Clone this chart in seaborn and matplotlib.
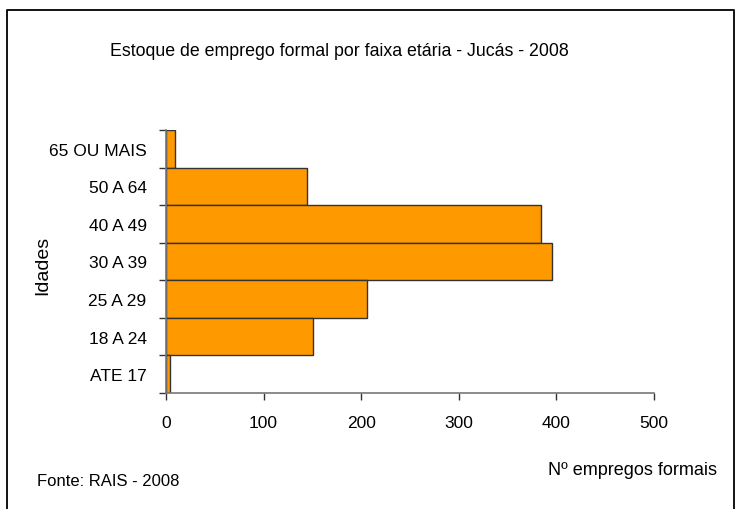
import numpy as np
import pandas as pd
import matplotlib
matplotlib.use("Agg")
import matplotlib.pyplot as plt
import seaborn as sns
from matplotlib.lines import Line2D

# data, top bar first
faixas = ["65 OU MAIS", "50 A 64", "40 A 49", "30 A 39", "25 A 29", "18 A 24", "ATE 17"]
empregos = [9, 144, 384, 396, 206, 151, 4]
x_ticks = [0, 100, 200, 300, 400, 500]

df = pd.DataFrame({"faixa": faixas, "empregos": empregos})

sns.set_style("white")
plt.rcParams["font.family"] = ["Liberation Sans", "DejaVu Sans"]
plt.rcParams["text.color"] = "black"
plt.rcParams["xtick.color"] = "black"
plt.rcParams["ytick.color"] = "black"

fig = plt.figure(figsize=(7.42, 5.10), dpi=100)
ax = fig.add_axes([0.2237, 0.2275, 0.6577, 0.5156])

sns.barplot(data=df, x="empregos", y="faixa", order=faixas, orient="h",
            color="#FF9900", saturation=1, width=1.0, edgecolor="#333333",
            linewidth=1.0, ax=ax)

ax.set_xlim(0, 500)
ax.set_ylim(len(faixas) - 0.5, -0.5)
ax.set_xticks(x_ticks)
ax.set_xticklabels([str(t) for t in x_ticks], fontsize=12.5)
ax.tick_params(axis="x", direction="out", length=5, width=1, color="#333333",
               pad=11, bottom=True)

# labels centred on bars, tick marks at category boundaries
ax.tick_params(axis="y", which="major", length=0, pad=14, labelsize=12.5)
ax.set_yticks(np.arange(-0.5, len(faixas), 1.0), minor=True)
ax.tick_params(axis="y", which="minor", direction="out", length=5, width=1,
               color="#333333", left=True)

for side in ["top", "right"]:
    ax.spines[side].set_visible(False)
for side in ["left", "bottom"]:
    ax.spines[side].set_color("#777777")
    ax.spines[side].set_linewidth(1.2)

ax.set_xlabel("")
ax.set_ylabel("")

fig.text(0.458, 0.900, "Estoque de emprego formal por faixa etária - Jucás - 2008",
         ha="center", va="center", fontsize=12.8)
fig.text(0.057, 0.48, "Idades", rotation=90, ha="center", va="center", fontsize=14)
fig.text(0.852, 0.078, "Nº empregos formais", ha="center", va="center", fontsize=13)
fig.text(0.05, 0.055, "Fonte: RAIS - 2008", ha="left", va="center", fontsize=12)

# outer frame of the chart area
frame_x = [0.0095, 0.0095, 0.989, 0.989]
frame_y = [0.0, 0.979, 0.979, 0.0]
fig.add_artist(Line2D(frame_x, frame_y, color="black", linewidth=1.3,
                      transform=fig.transFigure))

fig.savefig("out.png", dpi=100)
